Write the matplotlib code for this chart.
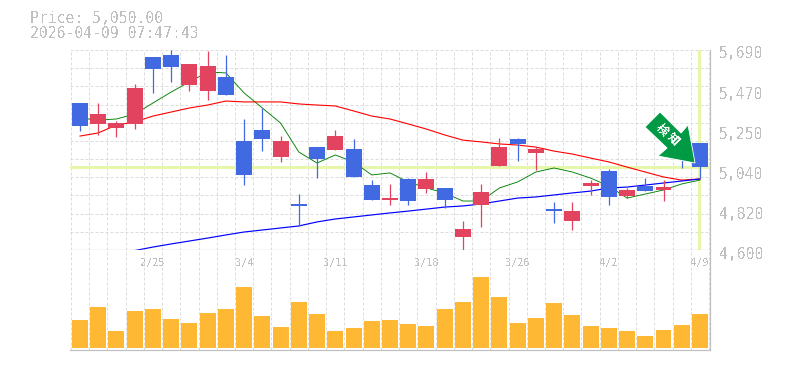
import numpy as np
import matplotlib
matplotlib.use("Agg")
import matplotlib.pyplot as plt
from matplotlib.patches import Polygon
from matplotlib.transforms import Affine2D

# Candles, oldest first
opens = [5401, 5287, 5265, 5287, 5652, 5663, 5499, 5467, 5543, 5194, 5254, 5107,
         4851, 5161, 5145, 5150, 4954, 4872, 4987, 4932, 4938, 4671, 4845, 5058,
         5205, 5129, 4823, 4758, 4949, 5030, 4894, 4949, 4927, 5172, 5183]
highs = [5401, 5401, 5303, 5505, 5652, 5690, 5614, 5685, 5663, 5314, 5374, 5221,
         4905, 5161, 5254, 5205, 4981, 4960, 4992, 5025, 4938, 4758, 4960, 5210,
         5210, 5161, 4862, 4862, 4981, 5041, 4938, 4992, 4981, 5172, 5183]
lows = [5249, 5227, 5216, 5259, 5456, 5516, 5467, 5418, 5445, 4954, 5139, 5080,
        4731, 4992, 5145, 4998, 4872, 4845, 4845, 4911, 4829, 4600, 4725, 5058,
        5085, 5036, 4747, 4709, 4900, 4845, 4883, 4921, 4867, 5047, 4992]
closes = [5276, 5341, 5292, 5483, 5586, 5597, 5614, 5603, 5445, 5009, 5205, 5194,
          4840, 5096, 5221, 4998, 4872, 4883, 4867, 4987, 4872, 4714, 4916, 5161,
          5178, 5150, 4812, 4812, 4965, 4889, 4927, 4921, 4943, 5101, 5050]
volumes = [28, 41, 17, 37, 39, 29, 25, 35, 39, 61, 32, 21, 46, 34, 17, 20, 27, 28,
           24, 22, 39, 46, 71, 51, 25, 30, 45, 33, 22, 20, 17, 12, 18, 23, 34]

# Moving averages
ma_short = [5319, 5308, 5314, 5341, 5401, 5461, 5516, 5570, 5565, 5456, 5374, 5292,
            5134, 5074, 5118, 5080, 5009, 5020, 4971, 4938, 4911, 4867, 4867, 4938,
            4971, 5025, 5047, 5025, 4992, 4949, 4883, 4905, 4927, 4960, 4981]
ma_mid = [5221, 5238, 5281, 5298, 5330, 5352, 5374, 5390, 5412, 5407, 5407, 5407,
          5396, 5390, 5385, 5358, 5330, 5314, 5287, 5259, 5227, 5199, 5189, 5178,
          5172, 5161, 5139, 5123, 5101, 5080, 5052, 5025, 4998, 4981, 4987]
ma_long = [4597, 4616, 4633, 4649, 4665, 4682, 4698, 4709, 4720, 4731, 4753, 4769,
           4780, 4791, 4802, 4812, 4823, 4834, 4840, 4851, 4867, 4883, 4889, 4900,
           4911, 4921, 4938, 4943, 4954, 4965, 4976, 4987]

date_idx = [4, 9, 14, 19, 24, 29, 34]
date_labels = ["2/25", "3/4", "3/11", "3/18", "3/26", "4/2", "4/9"]
price_ticks = [5690, 5472, 5254, 5036, 4818, 4600]
price_labels = ["5,690", "5,470", "5,250", "5,040", "4,820", "4,600"]
current_price = 5050
title_lines = ["Price: 5,050.00", "2026-04-09 07:47:43"]
marker_text = "検知"

GRAY = "#c0c0c0"
GRID = "#dcdcdc"
BLUE = "#4169e1"
RED = "#e2445f"
ORANGE = "#ffb833"
LIME = "#e6f7a9"
W, H = 785, 370

plt.rcParams["text.antialiased"] = False
plt.rcParams["font.family"] = ["DejaVu Sans Mono", "Noto Sans CJK JP"]

fig = plt.figure(figsize=(W / 100, H / 100), dpi=100)
ax = fig.add_axes([70 / W, 1 - 250 / H, 640 / W, 200 / H])
ax_vol = fig.add_axes([70 / W, 1 - 350 / H, 640 / W, 100 / H])

x = np.arange(len(closes))
xlim = (-0.548, 34.55)

# Grid
for a in (ax, ax_vol):
    a.set_xlim(*xlim)
    a.set_xticks([])
    a.set_yticks([])
    for k in np.arange(-0.5, 35):
        a.axvline(k, color=GRID, lw=0.72, ls=(0, (3, 2)), zorder=0)
    for side in ("left", "top"):
        a.spines[side].set_visible(False)
    for side in ("right", "bottom"):
        a.spines[side].set_color(GRAY)
        a.spines[side].set_linewidth(0.9)
ax.set_ylim(4600, 5690)
for p in np.linspace(4600, 5690, 12)[1:]:
    ax.axhline(p, color=GRID, lw=0.72, ls=(0, (3, 2)), zorder=0)

# Highlighted current price and last session
ax.axhline(current_price, color=LIME, lw=2.2, zorder=1)
ax.axvline(x[-1] - 0.05, color=LIME, lw=2.2, zorder=1)

# Moving averages under the candles
ax.plot(x, ma_short, color="#008000", lw=0.65, zorder=2)
ax.plot(x, ma_mid, color="#ff0000", lw=0.8, zorder=2)
ax.plot(x[3:], ma_long, color="#0000ff", lw=0.85, zorder=2)

# Candles: red when the close is above the open
colors = [RED if c > o else BLUE for o, c in zip(opens, closes)]
ax.vlines(x, lows, highs, colors=colors, lw=0.9, zorder=3)
bottoms = np.minimum(opens, closes)
heights = np.abs(np.array(closes) - np.array(opens))
ax.bar(x, heights, bottom=bottoms, width=0.877, color=colors, antialiased=False, zorder=4)

# Volume
ax_vol.bar(x, volumes, width=0.877, color=ORANGE, antialiased=False, zorder=2)
ax_vol.set_ylim(-2, 98)
for i, label in zip(date_idx, date_labels):
    ax_vol.annotate(label, xy=(i, 1), xycoords=ax_vol.get_xaxis_transform(),
                    xytext=(0, -13), textcoords="offset pixels",
                    ha="center", va="center", color=GRAY, fontsize=7.4, zorder=5)

# Price labels sit a little below their grid lines
for p, label in zip(price_ticks, price_labels):
    ax.annotate(label, xy=(1, p), xycoords=ax.get_yaxis_transform(),
                xytext=(9, -4), textcoords="offset pixels", annotation_clip=False,
                ha="left", va="center", color=GRAY, fontsize=10.6)

fig.text(30 / W, 1 - 18.5 / H, title_lines[0], color=GRAY, fontsize=10.6, va="center")
fig.text(30 / W, 1 - 33.5 / H, title_lines[1], color=GRAY, fontsize=10.6, va="center")

# Green arrow pointing at the last candle, shape in pixels from its tip
fig.canvas.draw()
tip = Affine2D().translate(*ax.transData.transform((33.73, 5074)))
arrow_shape = [(0, 0), (-37, 7), (-28, 15), (-50, 36), (-35, 51), (-14, 30), (-7, 38)]
fig.add_artist(Polygon(arrow_shape, closed=True, facecolor="#009944", edgecolor="white",
                       lw=0.6, transform=tip, zorder=10))
for ch, pos in zip(marker_text, [(-33, 33), (-22, 24)]):
    fig.text(pos[0], pos[1], ch, color="white", fontsize=8.5, fontweight="bold",
             family=["Noto Sans CJK JP"], rotation=-45, rotation_mode="anchor",
             ha="center", va="center", transform=tip, zorder=11)

fig.savefig("out.png", dpi=100)
